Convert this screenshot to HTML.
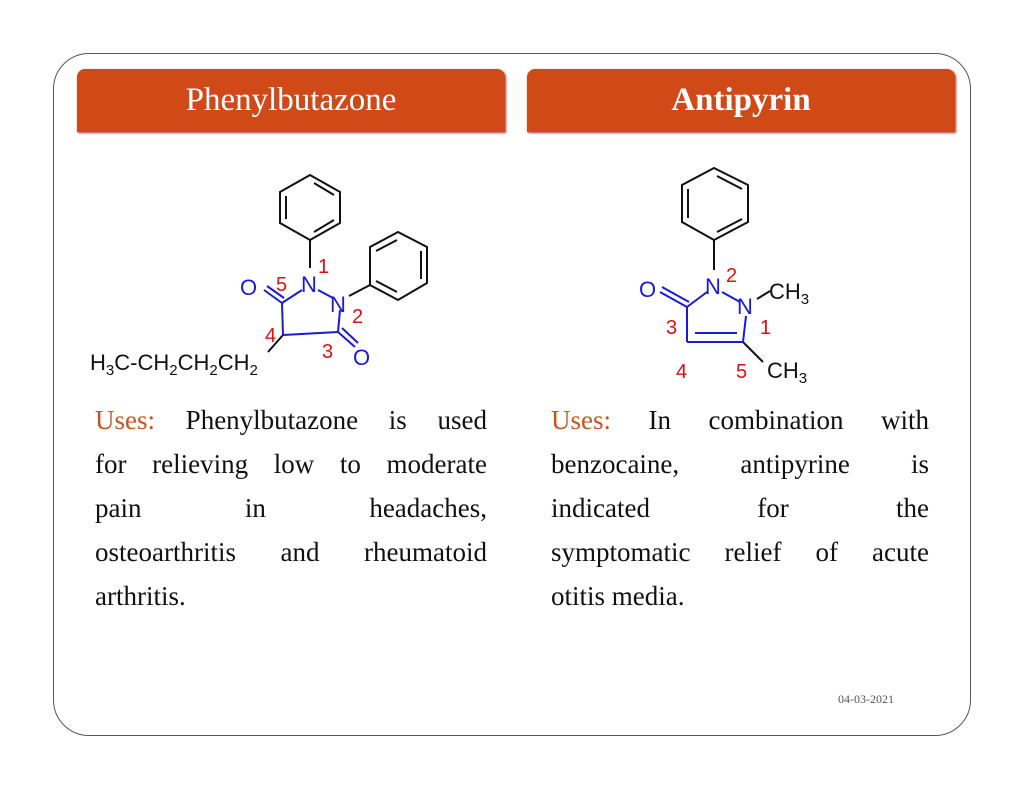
<!DOCTYPE html>
<html><head><meta charset="utf-8"><style>
body{margin:0;width:1024px;height:791px;background:#fff;position:relative;overflow:hidden;font-family:"Liberation Serif",serif}
.frame{position:absolute;left:53px;top:53px;width:916px;height:681px;border:1.5px solid #555;border-radius:36px}
.bar{position:absolute;top:69px;height:63px;background:#D04A18;color:#fff;font-size:33px;text-align:center;line-height:63px;border-radius:8px 8px 0 0;box-shadow:1px 1px 2px #a33}
.txt{position:absolute;font-size:27px;line-height:44px;color:#111}
.txt div{text-align:justify;text-align-last:justify;white-space:nowrap;height:44px}
.txt div.l{text-align-last:left}
.u{color:#C8541E}
.date{position:absolute;left:838px;top:692px;font-size:12px;color:#555}
</style></head><body>
<div class="frame"></div>
<div class="bar" style="left:77px;width:428px">Phenylbutazone</div>
<div class="bar" style="left:527px;width:428px;font-weight:bold">Antipyrin</div>
<svg width="1024" height="791" style="position:absolute;left:0;top:0" font-family="Liberation Sans, sans-serif">
<g stroke="#111" stroke-width="2" fill="none">
<polygon points="310,175 340,192 340,223 310,240 280,223 280,192"/>
<line x1="286" y1="196" x2="286" y2="219"/><line x1="314" y1="183" x2="334" y2="195"/><line x1="314" y1="232" x2="334" y2="220"/>
<line x1="310" y1="240" x2="310" y2="268"/>
<polygon points="370,247 398,232 427,247 427,283 398,300 370,285"/>
<line x1="376" y1="251" x2="397" y2="240"/><line x1="421" y1="251" x2="421" y2="279"/><line x1="376" y1="281" x2="397" y2="292"/>
<line x1="349" y1="296" x2="370" y2="285"/>
<line x1="283" y1="335" x2="268" y2="352"/>
<polygon points="714,168 748,185 748,222 714,240 682,222 682,185"/>
<line x1="688" y1="189" x2="688" y2="218"/><line x1="717" y1="176" x2="742" y2="189"/><line x1="717" y1="232" x2="742" y2="219"/>
<line x1="714" y1="240" x2="714" y2="270"/>
<line x1="757" y1="299" x2="770" y2="291"/>
<line x1="743" y1="342" x2="763" y2="362"/>
</g>
<g stroke="#1a1adb" stroke-width="2" fill="none">
<line x1="282" y1="303" x2="302" y2="290"/><line x1="318" y1="290" x2="333" y2="298"/>
<line x1="282" y1="303" x2="283" y2="335"/><line x1="283" y1="335" x2="338" y2="332"/><line x1="338" y1="332" x2="340" y2="310"/>
<line x1="264" y1="290" x2="282" y2="303"/><line x1="267" y1="286" x2="284" y2="298"/>
<line x1="338" y1="332" x2="355" y2="347"/><line x1="342" y1="328" x2="358" y2="343"/>
<line x1="687" y1="307" x2="707" y2="292"/><line x1="722" y1="292" x2="740" y2="302"/>
<line x1="687" y1="307" x2="687" y2="342"/><line x1="687" y1="342" x2="743" y2="342"/><line x1="695" y1="333" x2="737" y2="333"/>
<line x1="743" y1="342" x2="746" y2="316"/>
<line x1="660" y1="292" x2="687" y2="307"/><line x1="662" y1="287" x2="689" y2="302"/>
</g>
<g fill="#1a1adb" font-size="22">
<text x="301" y="292">N</text><text x="330" y="312">N</text><text x="240" y="295">O</text><text x="353" y="365">O</text>
<text x="705" y="294">N</text><text x="737" y="314">N</text><text x="639" y="297">O</text>
</g>
<g fill="#e01010" font-size="20">
<text x="318" y="273">1</text><text x="276" y="291">5</text><text x="352" y="323">2</text><text x="265" y="342">4</text><text x="322" y="358">3</text>
<text x="726" y="282">2</text><text x="760" y="334">1</text><text x="666" y="334">3</text><text x="676" y="378">4</text><text x="736" y="378">5</text>
</g>
<g fill="#111" font-size="22">
<text x="90" y="370">H<tspan font-size="15" dy="5">3</tspan><tspan dy="-5">C-CH</tspan><tspan font-size="15" dy="5">2</tspan><tspan dy="-5">CH</tspan><tspan font-size="15" dy="5">2</tspan><tspan dy="-5">CH</tspan><tspan font-size="15" dy="5">2</tspan></text>
<text x="769" y="299">CH<tspan font-size="15" dy="5">3</tspan></text>
<text x="767" y="378">CH<tspan font-size="15" dy="5">3</tspan></text>
</g>
</svg>
<div class="txt" style="left:95px;top:398px;width:392px">
<div><span class="u">Uses:</span> Phenylbutazone is used</div>
<div>for relieving low to moderate</div>
<div>pain in headaches,</div>
<div>osteoarthritis and rheumatoid</div>
<div class="l">arthritis.</div>
</div>
<div class="txt" style="left:551px;top:398px;width:378px">
<div><span class="u">Uses:</span> In combination with</div>
<div>benzocaine, antipyrine is</div>
<div>indicated for the</div>
<div>symptomatic relief of acute</div>
<div class="l">otitis media.</div>
</div>
<div class="date">04-03-2021</div>
</body></html>
